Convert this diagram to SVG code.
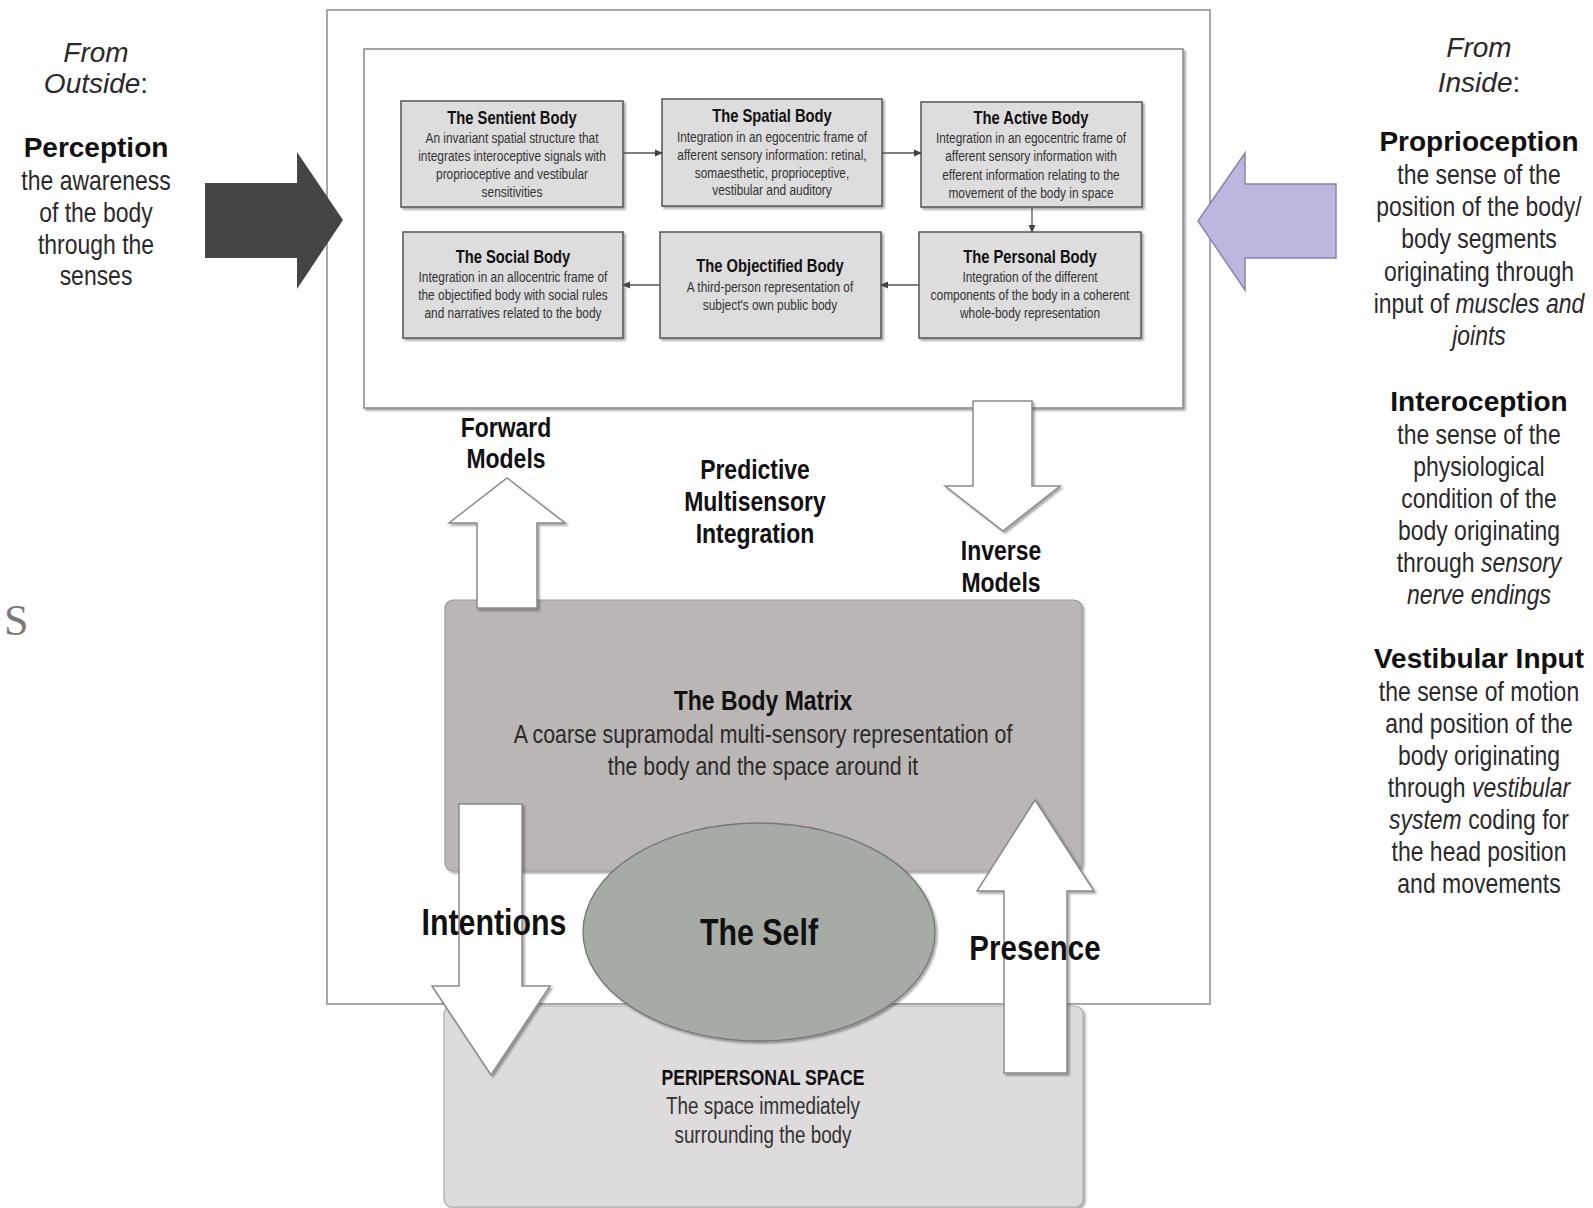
<svg xmlns="http://www.w3.org/2000/svg" width="1593" height="1208" viewBox="0 0 1593 1208">
<style>
text{font-family:"Liberation Sans",Arial,sans-serif;fill:#2a2a2a}
.side{font-size:28px;text-anchor:middle}
.hd{font-weight:bold;fill:#111}
.bt{font-size:18px;font-weight:bold;text-anchor:middle;fill:#111}
.bb{font-size:14.5px;text-anchor:middle;fill:#333}
.lbl{font-size:28px;font-weight:bold;text-anchor:middle;fill:#111}
.box{fill:#dddddd;stroke:#555;stroke-width:1.5}
.bigw{fill:#fff;stroke:#8a8a8a;stroke-width:1.5}
.conn{stroke:#555;stroke-width:1.3;fill:none}
</style>
<defs>
<filter id="sh" x="-10%" y="-10%" width="130%" height="130%">
<feDropShadow dx="2" dy="2" stdDeviation="1.2" flood-color="#000" flood-opacity="0.35"/>
</filter>
<marker id="ah" markerWidth="8" markerHeight="8" refX="7" refY="4" orient="auto" markerUnits="userSpaceOnUse">
<path d="M0,0.5 L8,4 L0,7.5 z" fill="#444"/>
</marker>
</defs>
<rect width="1593" height="1208" fill="#fff"/>

<g id="frames">
<rect x="327" y="10" width="883" height="994" fill="#fff" stroke="#a8a8a8" stroke-width="2"/>
<rect x="364" y="49" width="819" height="359" fill="#fff" stroke="#888" stroke-width="1.5" filter="url(#sh)"/>
</g>

<g id="stray-s"><text x="4" y="635" font-family="Liberation Serif,serif" font-size="44" fill="#7a7a7a" style="font-family:'Liberation Serif',serif;fill:#7a7a7a">S</text></g>

<g id="from-outside">
<text class="side" x="96" y="62" font-style="italic">From</text>
<text class="side" x="96" y="93"><tspan font-style="italic">Outside</tspan>:</text>
<text class="side hd" x="96" y="157">Perception</text>
<g transform="matrix(.82 0 0 1 17.28 0)">
<text class="side" x="96" y="190">the awareness</text>
<text class="side" x="96" y="222">of the body</text>
<text class="side" x="96" y="254">through the</text>
<text class="side" x="96" y="285">senses</text>
</g>
</g>

<g id="from-inside">
<text class="side" x="1479" y="57" font-style="italic">From</text>
<text class="side" x="1479" y="92"><tspan font-style="italic">Inside</tspan>:</text>
<text class="side hd" x="1479" y="151">Proprioception</text>
<text class="side hd" x="1479" y="411">Interoception</text>
<text class="side hd" x="1479" y="668">Vestibular Input</text>
<g transform="matrix(.82 0 0 1 266.22 0)">
<text class="side" x="1479" y="184">the sense of the</text>
<text class="side" x="1479" y="216">position of the body/</text>
<text class="side" x="1479" y="248">body segments</text>
<text class="side" x="1479" y="281">originating through</text>
<text class="side" x="1479" y="313">input of <tspan font-style="italic">muscles and</tspan></text>
<text class="side" x="1479" y="345" font-style="italic">joints</text>
<text class="side" x="1479" y="444">the sense of the</text>
<text class="side" x="1479" y="476">physiological</text>
<text class="side" x="1479" y="508">condition of the</text>
<text class="side" x="1479" y="540">body originating</text>
<text class="side" x="1479" y="572">through <tspan font-style="italic">sensory</tspan></text>
<text class="side" x="1479" y="604" font-style="italic">nerve endings</text>
<text class="side" x="1479" y="701">the sense of motion</text>
<text class="side" x="1479" y="733">and position of the</text>
<text class="side" x="1479" y="765">body originating</text>
<text class="side" x="1479" y="797">through <tspan font-style="italic">vestibular</tspan></text>
<text class="side" x="1479" y="829"><tspan font-style="italic">system</tspan> coding for</text>
<text class="side" x="1479" y="861">the head position</text>
<text class="side" x="1479" y="893">and movements</text>
</g>
</g>

<g id="sentient-body">
<rect class="box" x="401" y="101" width="222" height="106" filter="url(#sh)"/>
<g transform="matrix(.82 0 0 1 92.16 0)">
<text class="bt" x="512" y="124">The Sentient Body</text>
<text class="bb" x="512" y="143">An invariant spatial structure that</text>
<text class="bb" x="512" y="161">integrates interoceptive signals with</text>
<text class="bb" x="512" y="179">proprioceptive and vestibular</text>
<text class="bb" x="512" y="197">sensitivities</text>
</g>
</g>
<g id="spatial-body">
<rect class="box" x="662" y="99" width="220" height="107" filter="url(#sh)"/>
<g transform="matrix(.82 0 0 1 138.96 0)">
<text class="bt" x="772" y="122">The Spatial Body</text>
<text class="bb" x="772" y="142">Integration in an egocentric frame of</text>
<text class="bb" x="772" y="160">afferent sensory information: retinal,</text>
<text class="bb" x="772" y="178">somaesthetic, proprioceptive,</text>
<text class="bb" x="772" y="195">vestibular and auditory</text>
</g>
</g>
<g id="active-body">
<rect class="box" x="921" y="102" width="221" height="105" filter="url(#sh)"/>
<g transform="matrix(.82 0 0 1 185.58 0)">
<text class="bt" x="1031" y="124">The Active Body</text>
<text class="bb" x="1031" y="143">Integration in an egocentric frame of</text>
<text class="bb" x="1031" y="161">afferent sensory information with</text>
<text class="bb" x="1031" y="180">efferent information relating to the</text>
<text class="bb" x="1031" y="198">movement of the body in space</text>
</g>
</g>
<g id="social-body">
<rect class="box" x="403" y="232" width="220" height="106" filter="url(#sh)"/>
<g transform="matrix(.82 0 0 1 92.34 0)">
<text class="bt" x="513" y="263">The Social Body</text>
<text class="bb" x="513" y="282">Integration in an allocentric frame of</text>
<text class="bb" x="513" y="300">the objectified body with social rules</text>
<text class="bb" x="513" y="318">and narratives related to the body</text>
</g>
</g>
<g id="objectified-body">
<rect class="box" x="660" y="232" width="221" height="106" filter="url(#sh)"/>
<g transform="matrix(.82 0 0 1 138.6 0)">
<text class="bt" x="770" y="272">The Objectified Body</text>
<text class="bb" x="770" y="292">A third-person representation of</text>
<text class="bb" x="770" y="310">subject's own public body</text>
</g>
</g>
<g id="personal-body">
<rect class="box" x="919" y="232" width="222" height="106" filter="url(#sh)"/>
<g transform="matrix(.82 0 0 1 185.4 0)">
<text class="bt" x="1030" y="263">The Personal Body</text>
<text class="bb" x="1030" y="282">Integration of the different</text>
<text class="bb" x="1030" y="300">components of the body in a coherent</text>
<text class="bb" x="1030" y="318">whole-body representation</text>
</g>
</g>

<g id="body-matrix">
<rect x="445" y="600" width="637" height="271" rx="8" fill="#bab6b5" stroke="#9d9999" stroke-width="1.2" filter="url(#sh)"/>
<g transform="matrix(.82 0 0 1 137.34 0)">
<text x="763" y="710" font-size="28" font-weight="bold" text-anchor="middle" style="fill:#111">The Body Matrix</text>
<text x="763" y="743" font-size="26" text-anchor="middle">A coarse supramodal multi-sensory representation of</text>
<text x="763" y="775" font-size="26" text-anchor="middle">the body and the space around it</text>
</g>
</g>

<g id="peripersonal-space">
<rect x="444" y="1006" width="639" height="201" rx="8" fill="#dddbdb" stroke="#aeacac" stroke-width="1.2" filter="url(#sh)"/>
<g transform="matrix(.82 0 0 1 137.34 0)">
<text x="763" y="1085" font-size="21.5" font-weight="bold" text-anchor="middle" style="fill:#111">PERIPERSONAL SPACE</text>
<text x="763" y="1114" font-size="23" text-anchor="middle" style="fill:#333">The space immediately</text>
<text x="763" y="1143" font-size="23" text-anchor="middle" style="fill:#333">surrounding the body</text>
</g>
</g>

<g id="connectors">
<line class="conn" x1="623" y1="153" x2="662" y2="153" marker-end="url(#ah)"/>
<line class="conn" x1="882" y1="153" x2="921" y2="153" marker-end="url(#ah)"/>
<line class="conn" x1="1032" y1="207" x2="1032" y2="232" marker-end="url(#ah)"/>
<line class="conn" x1="919" y1="285" x2="881" y2="285" marker-end="url(#ah)"/>
<line class="conn" x1="660" y1="285" x2="623" y2="285" marker-end="url(#ah)"/>
<polygon id="perception-arrow" points="205,183 297,183 297,152 343,220 297,289 297,258 205,258" fill="#454545"/>
<polygon id="inside-arrow" points="1198,221 1245,153 1245,184 1336,184 1336,258 1245,258 1245,290" fill="#bdb7df" stroke="#8a84b0" stroke-width="1.5"/>
<polygon id="forward-arrow" class="bigw" filter="url(#sh)" points="507,478 565,523 537,523 537,608 477,608 477,523 449,523"/>
<polygon id="inverse-arrow" class="bigw" filter="url(#sh)" points="973,401 1032,401 1032,486 1060,486 1003,531 945,486 973,486"/>
<polygon id="intentions-arrow" class="bigw" filter="url(#sh)" points="459,804 522,804 522,986 550,986 491,1075 432,986 459,986"/>
<polygon id="presence-arrow" class="bigw" filter="url(#sh)" points="1035,800 1094,891 1067,891 1067,1073 1004,1073 1004,891 977,891"/>
</g>

<g id="the-self">
<ellipse cx="759" cy="932" rx="176" ry="109" fill="#a6aba6" stroke="#777" stroke-width="1.3" filter="url(#sh)"/>
<g transform="matrix(.82 0 0 1 136.62 0)">
<text x="759" y="945" font-size="37" font-weight="bold" text-anchor="middle" style="fill:#111">The Self</text>
</g>
</g>

<g id="labels">
<g transform="matrix(.82 0 0 1 91.08 0)">
<text class="lbl" x="506" y="437">Forward</text>
<text class="lbl" x="506" y="468">Models</text>
</g>
<g transform="matrix(.82 0 0 1 135.9 0)">
<text class="lbl" x="755" y="479">Predictive</text>
<text class="lbl" x="755" y="511">Multisensory</text>
<text class="lbl" x="755" y="543">Integration</text>
</g>
<g transform="matrix(.82 0 0 1 180.18 0)">
<text class="lbl" x="1001" y="560">Inverse</text>
<text class="lbl" x="1001" y="592">Models</text>
</g>
<g transform="matrix(.82 0 0 1 88.92 0)">
<text x="494" y="935" font-size="37" font-weight="bold" text-anchor="middle" style="fill:#111">Intentions</text>
</g>
<g transform="matrix(.82 0 0 1 186.3 0)">
<text x="1035" y="960" font-size="36" font-weight="bold" text-anchor="middle" style="fill:#111">Presence</text>
</g>
</g>
</svg>
